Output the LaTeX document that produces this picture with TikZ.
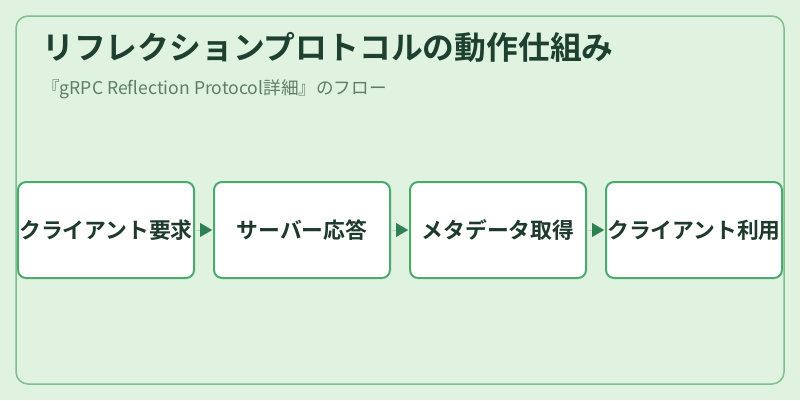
\documentclass[tikz,border=0pt]{standalone}
\usepackage{fontspec}
\newfontfamily\jp{Noto Sans CJK JP}
\newfontfamily\jpb{Noto Sans CJK JP Bold}
\usetikzlibrary{arrows.meta}
\definecolor{bg}{HTML}{E0F2E0}
\definecolor{frame}{HTML}{80BF90}
\definecolor{boxline}{HTML}{4CAA6E}
\definecolor{tip}{HTML}{2E8050}
\definecolor{ttl}{HTML}{1E4030}
\definecolor{sub}{HTML}{5E7E68}
\definecolor{txt}{HTML}{1E3A2A}
\tikzset{
  stepbox/.style={draw=boxline, line width=2pt, fill=white, rounded corners=8pt,
    minimum width=176pt, minimum height=96pt, inner sep=0pt, text=txt,
    font=\jpb\fontsize{21.8pt}{26pt}\selectfont},
  flow/.style={-{Triangle[length=12pt,width=14pt]}, draw=tip, fill=tip, line width=0.01pt, shorten >=1pt, shorten <=1pt}
}
\begin{document}
\begin{tikzpicture}[x=1pt,y=-1pt]
\fill[bg] (0,0) rectangle (800,400);
\useasboundingbox (0,0) rectangle (800,400);
\draw[frame, line width=1.5pt, rounded corners=12pt] (16,16) rectangle (784,384);
\node[anchor=west, text=ttl, font=\jpb\fontsize{31.8pt}{38pt}\selectfont, inner sep=0pt] (title) at (42,47) {リフレクションプロトコルの動作仕組み};
\node[anchor=west, text=sub, font=\jp\fontsize{17.6pt}{21pt}\selectfont, inner sep=0pt] (subtitle) at (42,89) {『gRPC Reflection Protocol詳細』のフロー};
\node[stepbox] (s1) at (106,230) {クライアント要求};
\node[stepbox] (s2) at (302,230) {サーバー応答};
\node[stepbox] (s3) at (498,230) {メタデータ取得};
\node[stepbox] (s4) at (694,230) {クライアント利用};
\draw[flow] (s1.east) -- (s2.west);
\draw[flow] (s2.east) -- (s3.west);
\draw[flow] (s3.east) -- (s4.west);
\end{tikzpicture}
\end{document}
